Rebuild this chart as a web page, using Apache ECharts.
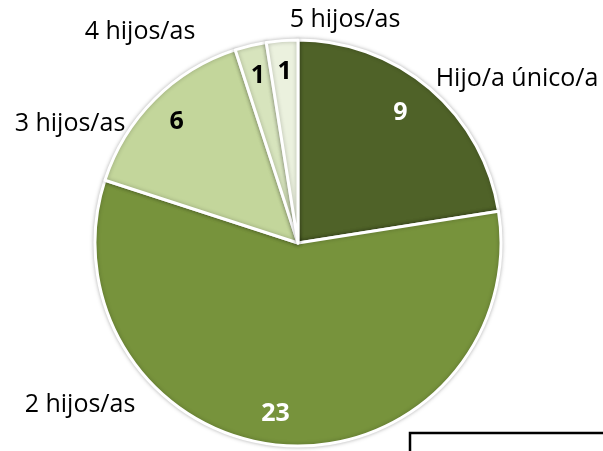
<!DOCTYPE html>
<html>
<head>
<meta charset="utf-8">
<script src="https://cdn.jsdelivr.net/npm/echarts@6/dist/echarts.min.js"></script>
</head>
<body style="margin:0;background:#fff;">
<div id="main" style="width:603px;height:451px;"></div>
<script>
// datos
var categorias = ['Hijo/a único/a', '2 hijos/as', '3 hijos/as', '4 hijos/as', '5 hijos/as'];
var valores = [9, 23, 6, 1, 1];

// estilo (no son datos)
var colores = ['#4f6228', '#77933c', '#c3d69b', '#d7e4bd', '#ebf1de'];
var colorValor = ['#fff', '#fff', '#000', '#000', '#000'];
var posNombre = [[517, 79], [80, 405], [70, 124], [140, 32], [345, 20]];

var chart = echarts.init(document.getElementById('main'));
var option = {
    animation: false,
    series: [
        {
            // sectores + nombres
            type: 'pie',
            center: [298, 243],
            radius: 203,
            startAngle: 90,
            clockwise: true,
            silent: true,
            itemStyle: {
                borderColor: '#fff',
                borderWidth: 3,
                shadowColor: 'rgba(0,0,0,0.25)',
                shadowBlur: 4
            },
            label: {
                show: true,
                position: 'outside',
                formatter: '{b}',
                color: '#000',
                fontFamily: 'Open Sans',
                fontSize: 25,
                overflow: 'none'
            },
            labelLine: { show: false },
            labelLayout: function (p) {
                var q = posNombre[p.dataIndex];
                return { x: q[0], y: q[1], align: 'center', verticalAlign: 'middle' };
            },
            data: categorias.map(function (c, i) {
                return { name: c, value: valores[i], itemStyle: { color: colores[i] } };
            })
        },
        {
            // valores
            type: 'pie',
            center: [298, 243],
            radius: [134, 203],
            startAngle: 90,
            clockwise: true,
            silent: true,
            itemStyle: { color: 'transparent', borderWidth: 0 },
            label: {
                show: true,
                position: 'inside',
                formatter: '{c}',
                fontFamily: 'Open Sans',
                fontWeight: 'bold',
                fontSize: 25
            },
            labelLine: { show: false },
            labelLayout: function (p) {
                // pequeño ajuste hacia el centro horizontal como en el original
                return { dx: p.dataIndex < 2 ? -9 : 0 };
            },
            data: categorias.map(function (c, i) {
                return {
                    name: c,
                    value: valores[i],
                    itemStyle: { color: 'transparent' },
                    label: { color: colorValor[i] }
                };
            })
        }
    ],
    graphic: [{
        type: 'rect',
        shape: { x: 410, y: 433, width: 220, height: 40 },
        style: { fill: '#fff', stroke: '#000', lineWidth: 2.5 }
    }]
};
chart.setOption(option);
</script>
</body>
</html>
